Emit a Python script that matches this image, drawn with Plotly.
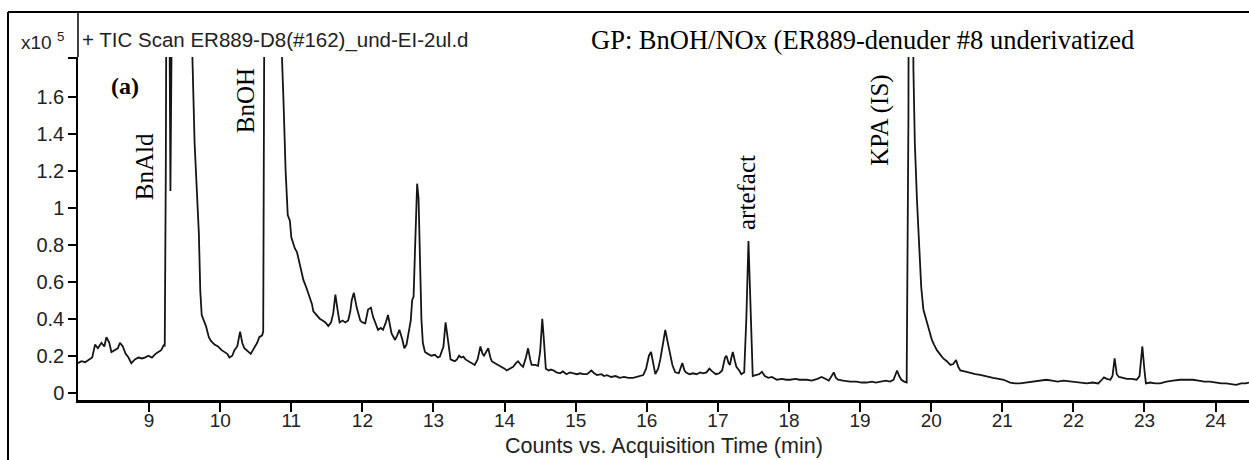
import plotly.graph_objects as go

# Acquisition time (min)
time_min = [
    8.00, 8.05, 8.10, 8.15, 8.20, 8.24, 8.28, 8.33, 8.37, 8.40, 8.44, 8.47, 8.52, 8.56, 8.59, 8.63, 8.67, 8.71, 8.75, 8.80,
    8.85, 8.90, 8.94, 8.99, 9.04, 9.09, 9.13, 9.17, 9.21, 9.22, 9.235, 9.25, 9.28, 9.30, 9.32, 9.40, 9.50, 9.58, 9.61, 9.64,
    9.67, 9.70, 9.72, 9.74, 9.77, 9.80, 9.84, 9.87, 9.92, 9.97, 10.02, 10.06, 10.10, 10.13, 10.17, 10.20, 10.24, 10.28, 10.31, 10.34,
    10.37, 10.40, 10.43, 10.46, 10.49, 10.52, 10.55, 10.59, 10.605, 10.62, 10.65, 10.80, 10.85, 10.87, 10.89, 10.92, 10.95, 10.98, 11.00, 11.02,
    11.05, 11.08, 11.10, 11.12, 11.15, 11.17, 11.21, 11.25, 11.29, 11.31, 11.33, 11.37, 11.40, 11.44, 11.48, 11.52, 11.56, 11.59, 11.62, 11.65,
    11.68, 11.72, 11.76, 11.80, 11.83, 11.85, 11.88, 11.92, 11.97, 12.00, 12.04, 12.08, 12.12, 12.15, 12.18, 12.22, 12.26, 12.29, 12.33, 12.36,
    12.41, 12.46, 12.49, 12.52, 12.56, 12.59, 12.62, 12.66, 12.68, 12.70, 12.72, 12.74, 12.77, 12.79, 12.81, 12.83, 12.85, 12.88, 12.92, 12.97,
    13.02, 13.06, 13.09, 13.14, 13.17, 13.21, 13.24, 13.27, 13.30, 13.33, 13.36, 13.39, 13.42, 13.45, 13.49, 13.54, 13.58, 13.62, 13.66, 13.69,
    13.71, 13.74, 13.77, 13.80, 13.82, 13.86, 13.91, 13.96, 14.00, 14.03, 14.08, 14.12, 14.16, 14.19, 14.23, 14.26, 14.30, 14.33, 14.36, 14.38,
    14.43, 14.47, 14.50, 14.53, 14.55, 14.58, 14.62, 14.65, 14.69, 14.73, 14.78, 14.82, 14.87, 14.92, 14.97, 15.02, 15.06, 15.11, 15.16, 15.22,
    15.26, 15.30, 15.36, 15.40, 15.44, 15.50, 15.56, 15.62, 15.68, 15.74, 15.81, 15.87, 15.92, 15.95, 15.99, 16.03, 16.06, 16.09, 16.12, 16.16,
    16.19, 16.23, 16.26, 16.29, 16.33, 16.36, 16.40, 16.45, 16.50, 16.53, 16.55, 16.60, 16.65, 16.70, 16.75, 16.79, 16.84, 16.88, 16.92, 16.97,
    17.02, 17.06, 17.10, 17.12, 17.15, 17.17, 17.19, 17.21, 17.24, 17.26, 17.30, 17.33, 17.37, 17.40, 17.43, 17.46, 17.49, 17.53, 17.58, 17.62,
    17.66, 17.71, 17.76, 17.83, 17.90, 17.96, 18.02, 18.09, 18.15, 18.25, 18.32, 18.40, 18.46, 18.51, 18.56, 18.60, 18.63, 18.66, 18.69, 18.76,
    18.86, 18.95, 19.02, 19.09, 19.17, 19.22, 19.28, 19.36, 19.42, 19.47, 19.50, 19.52, 19.55, 19.58, 19.62, 19.655, 19.68, 19.70, 19.74, 19.75,
    19.77, 19.80, 19.82, 19.84, 19.86, 19.89, 19.92, 19.94, 19.97, 20.01, 20.04, 20.08, 20.12, 20.17, 20.22, 20.27, 20.31, 20.35, 20.38, 20.41,
    20.47, 20.55, 20.62, 20.69, 20.78, 20.87, 20.95, 21.02, 21.11, 21.18, 21.25, 21.33, 21.42, 21.50, 21.56, 21.62, 21.70, 21.78, 21.86, 21.95,
    22.05, 22.12, 22.19, 22.27, 22.35, 22.40, 22.43, 22.47, 22.52, 22.55, 22.58, 22.61, 22.64, 22.70, 22.75, 22.82, 22.89, 22.93, 22.97, 23.00,
    23.02, 23.08, 23.15, 23.22, 23.31, 23.40, 23.50, 23.59, 23.68, 23.76, 23.84, 23.92, 24.00, 24.08, 24.15, 24.22, 24.29, 24.36, 24.42, 24.47,
]

# Counts (x10^5)
counts_e5 = [
    0.16, 0.17, 0.165, 0.18, 0.19, 0.26, 0.24, 0.27, 0.25, 0.30, 0.27, 0.22, 0.23, 0.24, 0.27, 0.25, 0.21, 0.19, 0.16, 0.18,
    0.19, 0.185, 0.19, 0.20, 0.19, 0.21, 0.22, 0.23, 0.26, 0.25, 1.2, 3.0, 2.5, 1.09, 3.5, 6.0, 5.0, 2.6, 1.8, 1.35,
    1.10, 0.86, 0.55, 0.42, 0.39, 0.36, 0.30, 0.28, 0.26, 0.25, 0.23, 0.22, 0.21, 0.19, 0.20, 0.23, 0.25, 0.33, 0.27, 0.24,
    0.23, 0.22, 0.21, 0.23, 0.25, 0.27, 0.30, 0.31, 0.33, 2.0, 8.0, 9.0, 3.0, 1.8, 1.58, 1.20, 0.96, 0.93, 0.84, 0.81,
    0.78, 0.76, 0.73, 0.70, 0.65, 0.61, 0.57, 0.52, 0.48, 0.44, 0.43, 0.41, 0.40, 0.39, 0.38, 0.36, 0.38, 0.43, 0.53, 0.45,
    0.38, 0.39, 0.38, 0.39, 0.44, 0.50, 0.54, 0.46, 0.39, 0.38, 0.375, 0.45, 0.46, 0.41, 0.38, 0.34, 0.35, 0.34, 0.38, 0.42,
    0.32, 0.285, 0.31, 0.34, 0.29, 0.24, 0.26, 0.35, 0.39, 0.50, 0.52, 0.77, 1.13, 1.05, 0.77, 0.40, 0.27, 0.22, 0.21, 0.20,
    0.205, 0.19, 0.195, 0.25, 0.38, 0.27, 0.18, 0.175, 0.17, 0.18, 0.20, 0.19, 0.195, 0.18, 0.17, 0.16, 0.15, 0.18, 0.25, 0.21,
    0.20, 0.22, 0.24, 0.19, 0.17, 0.16, 0.15, 0.14, 0.13, 0.12, 0.13, 0.14, 0.16, 0.17, 0.15, 0.14, 0.19, 0.24, 0.18, 0.15,
    0.15, 0.145, 0.22, 0.40, 0.30, 0.13, 0.12, 0.125, 0.12, 0.11, 0.105, 0.115, 0.10, 0.11, 0.105, 0.10, 0.105, 0.10, 0.10, 0.12,
    0.105, 0.095, 0.10, 0.09, 0.095, 0.085, 0.09, 0.08, 0.085, 0.08, 0.08, 0.085, 0.09, 0.095, 0.13, 0.20, 0.22, 0.16, 0.10, 0.13,
    0.18, 0.27, 0.34, 0.28, 0.195, 0.15, 0.11, 0.105, 0.16, 0.12, 0.11, 0.10, 0.105, 0.10, 0.11, 0.105, 0.11, 0.13, 0.115, 0.10,
    0.105, 0.12, 0.19, 0.20, 0.16, 0.15, 0.19, 0.22, 0.17, 0.14, 0.12, 0.10, 0.11, 0.40, 0.82, 0.40, 0.09, 0.095, 0.10, 0.113,
    0.09, 0.08, 0.085, 0.07, 0.075, 0.07, 0.07, 0.075, 0.07, 0.07, 0.065, 0.075, 0.085, 0.075, 0.065, 0.09, 0.11, 0.08, 0.07, 0.065,
    0.06, 0.06, 0.055, 0.055, 0.06, 0.055, 0.06, 0.065, 0.06, 0.07, 0.10, 0.12, 0.09, 0.07, 0.06, 0.055, 1.5, 6.0, 3.0, 1.75,
    1.35, 1.04, 0.85, 0.68, 0.57, 0.45, 0.41, 0.38, 0.34, 0.285, 0.26, 0.23, 0.21, 0.185, 0.17, 0.15, 0.155, 0.177, 0.14, 0.12,
    0.115, 0.105, 0.10, 0.096, 0.087, 0.08, 0.075, 0.07, 0.055, 0.05, 0.05, 0.055, 0.06, 0.065, 0.07, 0.07, 0.065, 0.06, 0.065, 0.06,
    0.055, 0.05, 0.05, 0.055, 0.05, 0.07, 0.083, 0.075, 0.07, 0.09, 0.186, 0.10, 0.085, 0.08, 0.075, 0.075, 0.07, 0.09, 0.25, 0.12,
    0.05, 0.055, 0.05, 0.05, 0.06, 0.065, 0.07, 0.07, 0.07, 0.065, 0.06, 0.06, 0.055, 0.05, 0.05, 0.045, 0.042, 0.05, 0.05, 0.055,
]

x_tick_vals = [9, 10, 11, 12, 13, 14, 15, 16, 17, 18, 19, 20, 21, 22, 23, 24]
y_tick_vals = [0, 0.2, 0.4, 0.6, 0.8, 1.0, 1.2, 1.4, 1.6, 1.81]
y_tick_text = ["0", "0.2", "0.4", "0.6", "0.8", "1", "1.2", "1.4", "1.6", ""]

peak_labels = ["BnAld", "BnOH", "artefact", "KPA (IS)"]
peak_label_t = [8.93, 10.36, 17.41, 19.28]
peak_label_v = [1.22, 1.58, 1.08, 1.47]

header_text = "+ TIC Scan ER889-D8(#162)_und-EI-2ul.d"
title_text = "GP: BnOH/NOx (ER889-denuder #8 underivatized"
x_title = "Counts vs. Acquisition Time (min)"

SANS = "Liberation Sans, Arial, sans-serif"
SERIF = "Liberation Serif, Times New Roman, serif"
INK = "#222222"

fig = go.Figure()
fig.add_trace(go.Scatter(
    x=time_min, y=counts_e5, mode="lines",
    line=dict(color="#151515", width=1.8),
    hoverinfo="skip", showlegend=False,
))

L, T, B = 78, 57, 60
W, H = 1249, 460
pw, ph = W - L, H - T - B

def px(xp):
    return (xp - L) / pw

def py(yp):
    return (H - B - yp) / ph

fig.update_layout(
    width=W, height=H,
    margin=dict(l=L, r=0, t=T, b=B),
    paper_bgcolor="white", plot_bgcolor="white",
    showlegend=False,
    xaxis=dict(
        range=[8.0, 24.47], tickvals=x_tick_vals,
        showgrid=False, zeroline=False,
        showline=True, linecolor="black", linewidth=3,
        ticks="outside", ticklen=9, tickwidth=1.5, tickcolor="black",
        ticklabelstandoff=-8,
        tickfont=dict(family=SANS, size=19, color=INK),
    ),
    yaxis=dict(
        range=[-0.0395, 1.815], tickvals=y_tick_vals, ticktext=y_tick_text,
        showgrid=False, zeroline=False,
        showline=True, linecolor="black", linewidth=1.5,
        ticks="outside", ticklen=8, tickwidth=1.5, tickcolor="black",
        tickfont=dict(family=SANS, size=20, color=INK),
    ),
)

# frame lines and y-axis extension
shapes = [
    dict(type="line", xref="paper", yref="paper", x0=px(8), x1=px(1252), y0=py(12), y1=py(12),
         line=dict(color="black", width=2)),
    dict(type="line", xref="paper", yref="paper", x0=px(8), x1=px(8), y0=py(12), y1=py(465),
         line=dict(color="black", width=2)),
    dict(type="line", xref="paper", yref="paper", x0=0, x1=0, y0=1, y1=py(12),
         line=dict(color="black", width=1.5)),
]
fig.update_layout(shapes=shapes)

ann = []
for lab, t, v in zip(peak_labels, peak_label_t, peak_label_v):
    ann.append(dict(x=t, y=v, xref="x", yref="y", text=lab, textangle=-90, showarrow=False,
                    xanchor="center", yanchor="middle",
                    font=dict(family=SERIF, size=25, color="black")))
ann.append(dict(x=8.66, y=1.66, xref="x", yref="y", text="<b>(a)</b>", showarrow=False,
                xanchor="center", yanchor="middle", font=dict(family=SERIF, size=24, color="black")))
ann.append(dict(x=px(862), y=py(40), xref="paper", yref="paper", text=title_text, showarrow=False,
                xanchor="center", yanchor="middle", font=dict(family=SERIF, size=26.5, color="black")))
ann.append(dict(x=px(80), y=py(40), xref="paper", yref="paper", text=header_text, showarrow=False,
                xanchor="left", yanchor="middle", font=dict(family=SANS, size=20.5, color=INK)))
ann.append(dict(x=px(66), y=py(41), xref="paper", yref="paper", text="x10 <sup>5</sup>", showarrow=False,
                xanchor="right", yanchor="middle", font=dict(family=SANS, size=19, color=INK)))
ann.append(dict(x=0.5, y=py(446), xref="paper", yref="paper", text=x_title, showarrow=False,
                xanchor="center", yanchor="middle", font=dict(family=SANS, size=21.5, color=INK)))
fig.update_layout(annotations=ann)

fig.write_html("out.html")
